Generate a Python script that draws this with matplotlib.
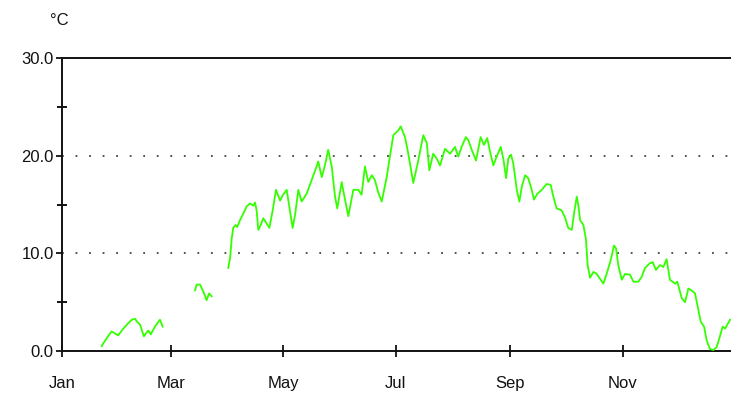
import matplotlib
matplotlib.use("Agg")
import matplotlib.pyplot as plt
from matplotlib.ticker import MultipleLocator, FixedLocator

# Daily mean temperature (day of year, degC).
# The record has gaps, so it is kept as three separate runs.
days_1 = [22.5, 23.8, 25.9, 27.9, 29.7, 31.5, 33.4, 35.7, 38.8, 40.6, 41.7,
          43.3, 45.4, 46.5, 47.8, 49.1, 51.4, 54.1, 55.6]
temps_1 = [0.5, 0.9, 1.5, 2.0, 1.8, 1.6, 2.1, 2.6, 3.2, 3.3, 3.0,
           2.7, 1.5, 1.8, 2.1, 1.7, 2.5, 3.2, 2.5]

days_2 = [73.1, 74.0, 75.8, 77.6, 79.4, 80.7, 82.1]
temps_2 = [6.2, 6.8, 6.8, 6.1, 5.2, 5.9, 5.6]

days_3 = [91.1, 92.1, 93.0, 93.8, 95.1, 96.0, 97.5, 99.1, 101.1, 102.9,
          104.7, 105.6, 106.5, 107.4, 108.7, 110.1, 111.4, 113.4, 115.2, 117.0,
          119.2, 120.8, 122.8, 124.6, 126.0, 127.3, 129.1, 130.9, 133.6, 136.3,
          139.0, 139.9, 141.8, 143.5, 145.3, 147.2, 149.0, 150.2, 152.6, 154.4,
          156.2, 158.9, 161.6, 163.4, 165.2, 167.0, 168.9, 170.6, 172.3, 174.3,
          177.0, 178.8, 180.6, 183.3, 184.6, 186.9, 188.7, 190.2, 191.4, 194.1,
          196.8, 198.7, 200.1, 202.2, 204.1, 205.9, 208.6, 211.3, 214.0, 215.8,
          217.6, 219.9, 221.2, 223.1, 225.4, 227.9, 229.7, 231.5, 233.0, 234.8,
          236.6, 238.8, 240.2, 241.7, 242.9, 244.4, 245.6, 247.5, 248.9, 250.2,
          252.0, 253.7, 255.6, 256.8, 258.6, 261.0, 263.7, 265.9, 267.3, 269.1,
          271.8, 273.6, 275.4, 277.3, 278.7, 280.0, 280.9, 281.8, 283.6, 285.0,
          285.9, 287.2, 289.0, 290.8, 292.6, 294.4, 296.2, 298.4, 300.2, 301.3,
          302.5, 304.4, 306.2, 308.9, 310.7, 313.4, 315.2, 317.0, 319.7, 321.2,
          322.9, 325.1, 326.9, 328.7, 330.5, 333.2, 334.5, 336.9, 338.7, 340.5,
          342.3, 344.1, 345.9, 347.2, 349.0, 350.4, 352.2, 354.1, 355.8, 357.6,
          359.1, 360.4, 361.6, 363.1]
temps_3 = [8.5, 9.5, 11.5, 12.6, 12.9, 12.7, 13.4, 14.0, 14.8, 15.1,
           14.9, 15.2, 14.4, 12.4, 12.9, 13.6, 13.2, 12.6, 14.4, 16.5,
           15.4, 16.0, 16.5, 14.3, 12.6, 13.9, 16.5, 15.3, 16.1, 17.5,
           18.9, 19.4, 17.8, 19.0, 20.6, 18.9, 15.8, 14.6, 17.3, 15.5,
           13.8, 16.5, 16.5, 16.0, 18.9, 17.3, 18.0, 17.5, 16.3, 15.3,
           17.8, 20.0, 22.1, 22.6, 23.0, 21.9, 20.2, 18.5, 17.2, 19.5,
           22.1, 21.3, 18.5, 20.2, 19.7, 19.0, 20.7, 20.2, 20.9, 19.9,
           20.9, 21.9, 21.6, 20.6, 19.5, 21.9, 21.1, 21.8, 20.4, 19.0,
           19.9, 20.9, 19.7, 17.7, 19.7, 20.1, 19.2, 16.5, 15.3, 16.8,
           18.0, 17.7, 16.5, 15.5, 16.1, 16.5, 17.1, 17.0, 15.8, 14.6,
           14.4, 13.7, 12.6, 12.4, 14.3, 15.8, 14.9, 13.4, 12.9, 11.4,
           8.8, 7.5, 8.1, 7.9, 7.4, 6.9, 7.9, 9.3, 10.8, 10.5,
           8.8, 7.3, 7.9, 7.8, 7.1, 7.1, 7.6, 8.5, 9.0, 9.1,
           8.3, 8.8, 8.6, 9.4, 7.3, 6.9, 7.1, 5.4, 5.0, 6.4,
           6.2, 5.9, 4.2, 3.0, 2.5, 1.1, 0.2, 0.1, 0.4, 1.5,
           2.5, 2.3, 2.7, 3.2]

month_days = [1, 60, 121, 182, 244, 305]
month_labels = ["Jan", "Mar", "May", "Jul", "Sep", "Nov"]
y_major = [0, 10, 20, 30]
grid_levels = [10, 20]

plt.rcParams["font.family"] = ["Liberation Sans", "DejaVu Sans"]

fig = plt.figure(figsize=(7.31, 4.05), dpi=100)
ax = fig.add_axes([0.0848, 0.1333, 0.9152, 0.7235])

for d, t in [(days_1, temps_1), (days_2, temps_2), (days_3, temps_3)]:
    ax.plot(d, t, color="#33ff00", linewidth=1.3, zorder=3)

for lev in grid_levels:
    ax.axhline(lev, color="#444444", linewidth=1.3, linestyle=(0, (1, 6.5)), zorder=1)

ax.set_xlim(1, 363.6)
ax.set_ylim(0, 30)

ax.xaxis.set_major_locator(FixedLocator(month_days))
ax.set_xticklabels(month_labels)
ax.yaxis.set_major_locator(FixedLocator(y_major))
ax.set_yticklabels([f"{v:.1f}" for v in y_major])
ax.yaxis.set_minor_locator(MultipleLocator(5))

ax.tick_params(axis="x", which="major", direction="inout", length=8, width=1.3,
               pad=14, labelsize=12, colors="#111111")
ax.tick_params(axis="y", which="major", direction="out", length=4, width=1.3,
               pad=2, labelsize=12, colors="#111111")
ax.tick_params(axis="y", which="minor", direction="inout", length=7, width=1.3)

for side in ["left", "bottom", "top"]:
    ax.spines[side].set_linewidth(1.4)
    ax.spines[side].set_color("#111111")
ax.spines["right"].set_visible(False)

fig.text(0.068, 0.95, "°C", fontsize=12, color="#111111", va="center", ha="left")

plt.savefig("out.png", dpi=100, facecolor="white")
plt.close()
